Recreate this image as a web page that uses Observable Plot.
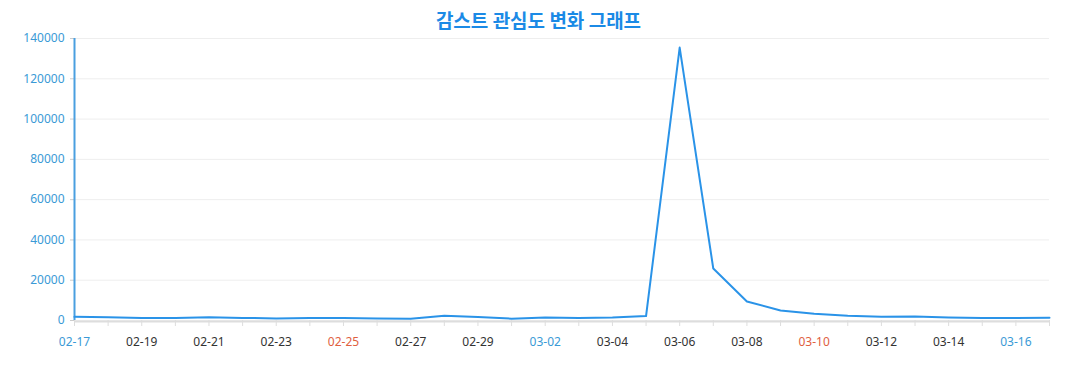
<!DOCTYPE html>
<html><head><meta charset="utf-8">
<script src="https://cdn.jsdelivr.net/npm/d3@7"></script>
<script src="https://cdn.jsdelivr.net/npm/@observablehq/plot@0.6"></script>
<style>
body{margin:0;background:#fff;font-family:"Noto Sans","Noto Sans CJK KR",sans-serif;}
#title{height:30px;line-height:40px;text-align:center;font-family:"Noto Sans CJK KR","Noto Sans",sans-serif;font-weight:bold;font-size:19px;color:#1b8ae6;}
</style></head><body>
<div id="title">감스트 관심도 변화 그래프</div>
<div id="chart"></div>
<script>
const dates = ["2024-02-17","2024-02-18","2024-02-19","2024-02-20","2024-02-21","2024-02-22","2024-02-23","2024-02-24","2024-02-25","2024-02-26","2024-02-27","2024-02-28","2024-02-29","2024-03-01","2024-03-02","2024-03-03","2024-03-04","2024-03-05","2024-03-06","2024-03-07","2024-03-08","2024-03-09","2024-03-10","2024-03-11","2024-03-12","2024-03-13","2024-03-14","2024-03-15","2024-03-16","2024-03-17"];
const values = [1800,1600,1300,1300,1600,1300,1000,1200,1200,1000,900,2400,1700,900,1500,1300,1500,2200,135500,25800,9400,5000,3300,2300,1800,2000,1500,1200,1200,1400];
const yTicks = [0,20000,40000,60000,80000,100000,120000,140000];
const labelDates = ["2024-02-17","2024-02-19","2024-02-21","2024-02-23","2024-02-25","2024-02-27","2024-02-29","2024-03-02","2024-03-04","2024-03-06","2024-03-08","2024-03-10","2024-03-12","2024-03-14","2024-03-16"];

const data = dates.map((d,i)=>({date:new Date(d+"T00:00:00Z"), value:values[i]}));
const dayTicks = dates.map(d=>new Date(d+"T00:00:00Z"));
const labels = labelDates.map(d=>{
  const dt = new Date(d+"T00:00:00Z");
  const wd = dt.getUTCDay();
  return {date:dt, text:d.slice(5), color: wd===6 ? "#3a9ad6" : wd===0 ? "#e0603f" : "#333333"};
});

const chart = Plot.plot({
  width:1077, height:360,
  marginTop:8, marginBottom:70, marginLeft:74, marginRight:28,
  style:{fontFamily:"'Noto Sans','Open Sans',sans-serif", fontSize:"12px", background:"#fff"},
  x:{type:"utc", domain:[dayTicks[0], dayTicks[dayTicks.length-1]]},
  y:{domain:[0,140000]},
  color:{type:"identity"},
  marks:[
    Plot.gridY(yTicks,{stroke:"#eeeeee", strokeOpacity:1}),
    Plot.axisY(yTicks,{tickSize:4, tickPadding:6, stroke:"#cccccc", fill:"#3a9ad6", tickFormat:d=>String(d), label:null, fontSize:12}),
    Plot.axisX(dayTicks,{tickSize:6, stroke:"#dddddd", tickFormat:()=>"", label:null}),
    Plot.ruleY([0],{stroke:"#dddddd", strokeWidth:2, dy:1}),
    Plot.ruleX([dayTicks[0]],{y1:0,y2:140000,stroke:"#4a9fe0",strokeWidth:2}),
    Plot.text(labels,{x:"date", y:0, dy:22, text:"text", fill:"color", fontSize:12}),
    Plot.line(data,{x:"date", y:"value", stroke:"#2a93e8", strokeWidth:2})
  ]
});
document.getElementById("chart").appendChild(chart);
</script>
</body></html>
